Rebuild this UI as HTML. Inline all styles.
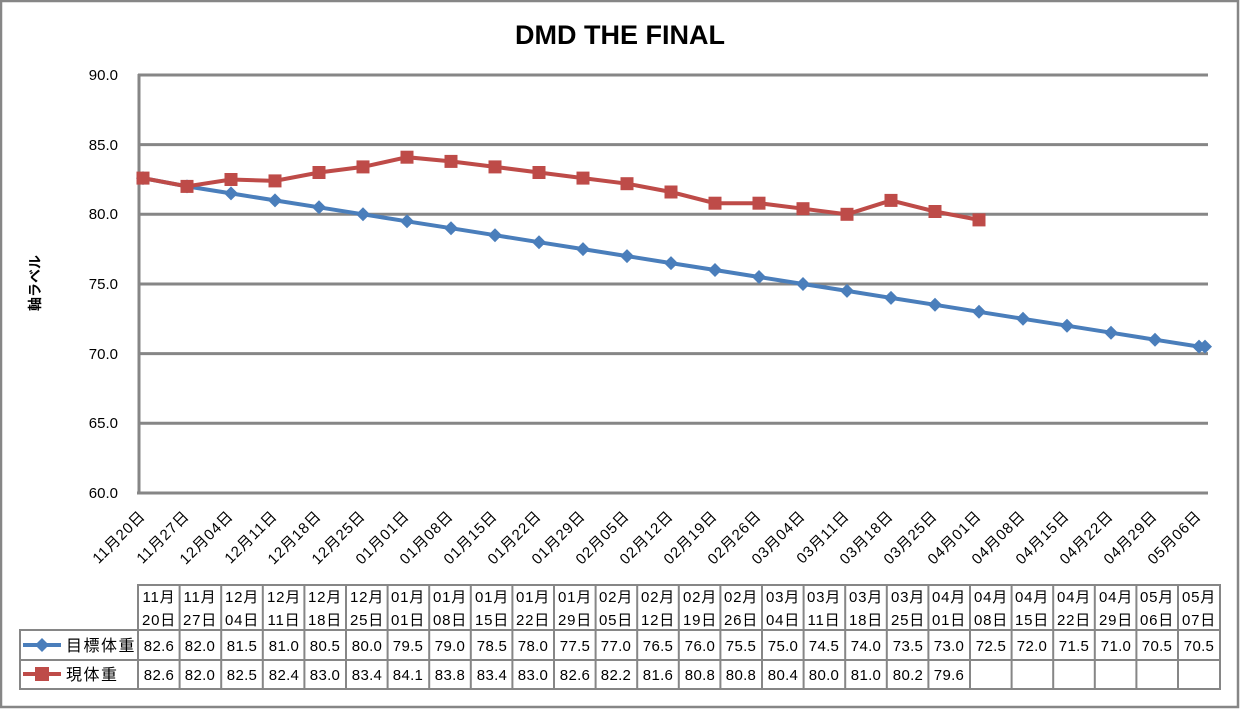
<!DOCTYPE html>
<html><head><meta charset="utf-8"><style>
html,body{margin:0;padding:0;background:#fff}
svg{display:block}
text{font-family:"Liberation Sans","Noto Sans CJK JP",sans-serif;fill:#000}
</style></head><body>
<svg width="1241" height="710" viewBox="0 0 1241 710" xmlns="http://www.w3.org/2000/svg">
<rect x="1" y="1" width="1237" height="706" fill="#fff" stroke="#868686" stroke-width="2.5"/>
<text x="620" y="44" font-size="27" font-weight="bold" text-anchor="middle">DMD THE FINAL</text>
<text transform="translate(40,283) rotate(-90)" font-size="14" font-weight="bold" text-anchor="middle">軸ラベル</text>
<g stroke="#868686" stroke-width="3">
<line x1="138" y1="75" x2="1208" y2="75"/>
<line x1="138" y1="144.6" x2="1208" y2="144.6"/>
<line x1="138" y1="214.3" x2="1208" y2="214.3"/>
<line x1="138" y1="284" x2="1208" y2="284"/>
<line x1="138" y1="353.6" x2="1208" y2="353.6"/>
<line x1="138" y1="423.3" x2="1208" y2="423.3"/>
<line x1="137" y1="493" x2="1208" y2="493"/>
<line x1="139" y1="74" x2="139" y2="494"/>
</g>
<g font-size="15" text-anchor="end">
<text x="118" y="80">90.0</text><text x="118" y="150">85.0</text><text x="118" y="219">80.0</text>
<text x="118" y="289">75.0</text><text x="118" y="359">70.0</text><text x="118" y="428">65.0</text><text x="118" y="498">60.0</text>
</g>
<polyline fill="none" stroke="#4a7ebb" stroke-width="4" points="143,178.1 187,186.4 231,193.4 275,200.4 319,207.3 363,214.3 407,221.3 451,228.2 495,235.2 539,242.2 583,249.1 627,256.1 671,263.1 715,270 759,277 803,284 847,290.9 891,297.9 935,304.8 979,311.8 1023,318.8 1067,325.7 1111,332.7 1155,339.7 1199,346.6 1205,346.6"/>
<g fill="#4a7ebb">
<path d="M143,171.1l7,7l-7,7l-7,-7z"/><path d="M187,179.4l7,7l-7,7l-7,-7z"/><path d="M231,186.4l7,7l-7,7l-7,-7z"/><path d="M275,193.4l7,7l-7,7l-7,-7z"/><path d="M319,200.3l7,7l-7,7l-7,-7z"/><path d="M363,207.3l7,7l-7,7l-7,-7z"/><path d="M407,214.3l7,7l-7,7l-7,-7z"/><path d="M451,221.2l7,7l-7,7l-7,-7z"/><path d="M495,228.2l7,7l-7,7l-7,-7z"/><path d="M539,235.2l7,7l-7,7l-7,-7z"/><path d="M583,242.1l7,7l-7,7l-7,-7z"/><path d="M627,249.1l7,7l-7,7l-7,-7z"/><path d="M671,256.1l7,7l-7,7l-7,-7z"/><path d="M715,263l7,7l-7,7l-7,-7z"/><path d="M759,270l7,7l-7,7l-7,-7z"/><path d="M803,277l7,7l-7,7l-7,-7z"/><path d="M847,283.9l7,7l-7,7l-7,-7z"/><path d="M891,290.9l7,7l-7,7l-7,-7z"/><path d="M935,297.8l7,7l-7,7l-7,-7z"/><path d="M979,304.8l7,7l-7,7l-7,-7z"/><path d="M1023,311.8l7,7l-7,7l-7,-7z"/><path d="M1067,318.7l7,7l-7,7l-7,-7z"/><path d="M1111,325.7l7,7l-7,7l-7,-7z"/><path d="M1155,332.7l7,7l-7,7l-7,-7z"/><path d="M1199,339.6l7,7l-7,7l-7,-7z"/><path d="M1205,339.6l7,7l-7,7l-7,-7z"/>
</g>
<polyline fill="none" stroke="#be4b48" stroke-width="4" points="143,178.1 187,186.4 231,179.5 275,180.9 319,172.5 363,166.9 407,157.2 451,161.4 495,166.9 539,172.5 583,178.1 627,183.7 671,192 715,203.2 759,203.2 803,208.7 847,214.3 891,200.4 935,211.5 979,219.9"/>
<g fill="#be4b48">
<rect x="136.5" y="171.6" width="13" height="13"/><rect x="180.5" y="179.9" width="13" height="13"/><rect x="224.5" y="173" width="13" height="13"/><rect x="268.5" y="174.4" width="13" height="13"/><rect x="312.5" y="166" width="13" height="13"/><rect x="356.5" y="160.4" width="13" height="13"/><rect x="400.5" y="150.7" width="13" height="13"/><rect x="444.5" y="154.9" width="13" height="13"/><rect x="488.5" y="160.4" width="13" height="13"/><rect x="532.5" y="166" width="13" height="13"/><rect x="576.5" y="171.6" width="13" height="13"/><rect x="620.5" y="177.2" width="13" height="13"/><rect x="664.5" y="185.5" width="13" height="13"/><rect x="708.5" y="196.7" width="13" height="13"/><rect x="752.5" y="196.7" width="13" height="13"/><rect x="796.5" y="202.2" width="13" height="13"/><rect x="840.5" y="207.8" width="13" height="13"/><rect x="884.5" y="193.9" width="13" height="13"/><rect x="928.5" y="205" width="13" height="13"/><rect x="972.5" y="213.4" width="13" height="13"/>
</g>
<g font-size="15" letter-spacing="0.8" text-anchor="end">
<text transform="translate(146,517) rotate(-45)">11月20日</text>
<text transform="translate(190,517) rotate(-45)">11月27日</text>
<text transform="translate(234,517) rotate(-45)">12月04日</text>
<text transform="translate(278,517) rotate(-45)">12月11日</text>
<text transform="translate(322,517) rotate(-45)">12月18日</text>
<text transform="translate(366,517) rotate(-45)">12月25日</text>
<text transform="translate(410,517) rotate(-45)">01月01日</text>
<text transform="translate(454,517) rotate(-45)">01月08日</text>
<text transform="translate(498,517) rotate(-45)">01月15日</text>
<text transform="translate(542,517) rotate(-45)">01月22日</text>
<text transform="translate(586,517) rotate(-45)">01月29日</text>
<text transform="translate(630,517) rotate(-45)">02月05日</text>
<text transform="translate(674,517) rotate(-45)">02月12日</text>
<text transform="translate(718,517) rotate(-45)">02月19日</text>
<text transform="translate(762,517) rotate(-45)">02月26日</text>
<text transform="translate(806,517) rotate(-45)">03月04日</text>
<text transform="translate(850,517) rotate(-45)">03月11日</text>
<text transform="translate(894,517) rotate(-45)">03月18日</text>
<text transform="translate(938,517) rotate(-45)">03月25日</text>
<text transform="translate(982,517) rotate(-45)">04月01日</text>
<text transform="translate(1026,517) rotate(-45)">04月08日</text>
<text transform="translate(1070,517) rotate(-45)">04月15日</text>
<text transform="translate(1114,517) rotate(-45)">04月22日</text>
<text transform="translate(1158,517) rotate(-45)">04月29日</text>
<text transform="translate(1202,517) rotate(-45)">05月06日</text>
</g>
<g stroke="#868686" stroke-width="2" fill="none">
<rect x="138" y="585" width="1082" height="104"/>
<rect x="20" y="630" width="1200" height="59"/>
<line x1="20" y1="660" x2="1220" y2="660"/>
<path d="M179.6,585v104M221.2,585v104M262.8,585v104M304.4,585v104M346,585v104M387.6,585v104M429.2,585v104M470.8,585v104M512.4,585v104M554,585v104M595.6,585v104M637.2,585v104M678.8,585v104M720.4,585v104M762,585v104M803.6,585v104M845.2,585v104M886.8,585v104M928.4,585v104M970,585v104M1011.6,585v104M1053.2,585v104M1094.8,585v104M1136.4,585v104M1178,585v104"/>
</g>
<line x1="23" y1="645" x2="61" y2="645" stroke="#4a7ebb" stroke-width="4"/>
<path d="M42,638l7,7l-7,7l-7,-7z" fill="#4a7ebb"/>
<line x1="23" y1="674" x2="61" y2="674" stroke="#be4b48" stroke-width="4"/>
<rect x="35" y="667" width="14" height="14" fill="#be4b48"/>
<text x="66" y="651" font-size="16" letter-spacing="1.5">目標体重</text>
<text x="66" y="680" font-size="16" letter-spacing="1.5">現体重</text>
<g font-size="15" letter-spacing="0.8" text-anchor="middle">
<text x="159" y="602">11月</text><text x="159" y="625">20日</text>
<text x="200" y="602">11月</text><text x="200" y="625">27日</text>
<text x="242" y="602">12月</text><text x="242" y="625">04日</text>
<text x="284" y="602">12月</text><text x="284" y="625">11日</text>
<text x="325" y="602">12月</text><text x="325" y="625">18日</text>
<text x="367" y="602">12月</text><text x="367" y="625">25日</text>
<text x="408" y="602">01月</text><text x="408" y="625">01日</text>
<text x="450" y="602">01月</text><text x="450" y="625">08日</text>
<text x="492" y="602">01月</text><text x="492" y="625">15日</text>
<text x="533" y="602">01月</text><text x="533" y="625">22日</text>
<text x="575" y="602">01月</text><text x="575" y="625">29日</text>
<text x="616" y="602">02月</text><text x="616" y="625">05日</text>
<text x="658" y="602">02月</text><text x="658" y="625">12日</text>
<text x="700" y="602">02月</text><text x="700" y="625">19日</text>
<text x="741" y="602">02月</text><text x="741" y="625">26日</text>
<text x="783" y="602">03月</text><text x="783" y="625">04日</text>
<text x="824" y="602">03月</text><text x="824" y="625">11日</text>
<text x="866" y="602">03月</text><text x="866" y="625">18日</text>
<text x="908" y="602">03月</text><text x="908" y="625">25日</text>
<text x="949" y="602">04月</text><text x="949" y="625">01日</text>
<text x="991" y="602">04月</text><text x="991" y="625">08日</text>
<text x="1032" y="602">04月</text><text x="1032" y="625">15日</text>
<text x="1074" y="602">04月</text><text x="1074" y="625">22日</text>
<text x="1116" y="602">04月</text><text x="1116" y="625">29日</text>
<text x="1157" y="602">05月</text><text x="1157" y="625">06日</text>
<text x="1199" y="602">05月</text><text x="1199" y="625">07日</text>
</g>
<g font-size="15" letter-spacing="0.3" text-anchor="middle">
<text x="159" y="651">82.6</text><text x="200" y="651">82.0</text><text x="242" y="651">81.5</text><text x="284" y="651">81.0</text><text x="325" y="651">80.5</text><text x="367" y="651">80.0</text><text x="408" y="651">79.5</text><text x="450" y="651">79.0</text><text x="492" y="651">78.5</text><text x="533" y="651">78.0</text><text x="575" y="651">77.5</text><text x="616" y="651">77.0</text><text x="658" y="651">76.5</text><text x="700" y="651">76.0</text><text x="741" y="651">75.5</text><text x="783" y="651">75.0</text><text x="824" y="651">74.5</text><text x="866" y="651">74.0</text><text x="908" y="651">73.5</text><text x="949" y="651">73.0</text><text x="991" y="651">72.5</text><text x="1032" y="651">72.0</text><text x="1074" y="651">71.5</text><text x="1116" y="651">71.0</text><text x="1157" y="651">70.5</text><text x="1199" y="651">70.5</text>
<text x="159" y="680">82.6</text><text x="200" y="680">82.0</text><text x="242" y="680">82.5</text><text x="284" y="680">82.4</text><text x="325" y="680">83.0</text><text x="367" y="680">83.4</text><text x="408" y="680">84.1</text><text x="450" y="680">83.8</text><text x="492" y="680">83.4</text><text x="533" y="680">83.0</text><text x="575" y="680">82.6</text><text x="616" y="680">82.2</text><text x="658" y="680">81.6</text><text x="700" y="680">80.8</text><text x="741" y="680">80.8</text><text x="783" y="680">80.4</text><text x="824" y="680">80.0</text><text x="866" y="680">81.0</text><text x="908" y="680">80.2</text><text x="949" y="680">79.6</text>
</g>
</svg>
</body></html>
